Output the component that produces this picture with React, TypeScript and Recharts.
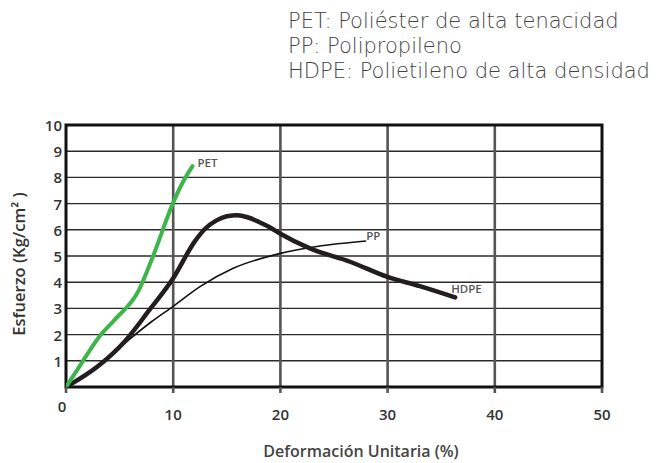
import React from "react";
import {
  LineChart,
  Line,
  XAxis,
  YAxis,
  CartesianGrid,
  ReferenceArea,
  LabelList,
} from "recharts";

// Esfuerzo vs deformación
const pet = [
  { x: 0, y: 0 },
  { x: 1.2, y: 0.75 },
  { x: 3.1, y: 1.92 },
  { x: 4.5, y: 2.55 },
  { x: 6.8, y: 3.7 },
  { x: 8.1, y: 4.97 },
  { x: 9.96, y: 7.0 },
  { x: 10.75, y: 7.7 },
  { x: 11.8, y: 8.43 },
];

const hdpe = [
  { x: 0, y: 0 },
  { x: 3, y: 0.8 },
  { x: 5.5, y: 1.75 },
  { x: 7.8, y: 2.95 },
  { x: 10, y: 4.15 },
  { x: 12, y: 5.55 },
  { x: 13, y: 6.05 },
  { x: 14, y: 6.35 },
  { x: 15, y: 6.52 },
  { x: 16, y: 6.56 },
  { x: 17, y: 6.47 },
  { x: 18, y: 6.3 },
  { x: 19, y: 6.1 },
  { x: 20, y: 5.85 },
  { x: 22.7, y: 5.3 },
  { x: 26.5, y: 4.78 },
  { x: 30, y: 4.2 },
  { x: 33, y: 3.85 },
  { x: 36.3, y: 3.42 },
];

const pp = [
  { x: 0, y: 0 },
  { x: 3, y: 0.8 },
  { x: 6, y: 1.85 },
  { x: 8, y: 2.5 },
  { x: 10, y: 3.08 },
  { x: 12.5, y: 3.83 },
  { x: 15.6, y: 4.53 },
  { x: 20, y: 5.1 },
  { x: 23.4, y: 5.36 },
  { x: 28, y: 5.57 },
];

const xTicks = [0, 10, 20, 30, 40, 50];
const yTicks = [1, 2, 3, 4, 5, 6, 7, 8, 9, 10];
const legendLines = [
  "PET: Poliéster de alta tenacidad",
  "PP: Polipropileno",
  "HDPE: Polietileno de alta densidad",
];

const FONT = "'Open Sans', sans-serif";

const XTick = (props: any) => {
  const { x, y, payload } = props;
  const isZero = payload.value === 0;
  return (
    <text
      x={isZero ? x - 4 : x}
      y={isZero ? y + 11 : y + 19}
      textAnchor="middle"
      dominantBaseline="central"
      fontSize={15}
      fontWeight={600}
      fill="#333"
      fontFamily={FONT}
    >
      {payload.value}
    </text>
  );
};

const YTick = (props: any) => {
  const { y, payload } = props;
  return (
    <text
      x={62}
      y={y}
      textAnchor="end"
      dominantBaseline="central"
      fontSize={15}
      fontWeight={600}
      fill="#333"
      fontFamily={FONT}
    >
      {payload.value}
    </text>
  );
};

const endLabel = (name: string, count: number, dx: number, dy: number) =>
  (props: any) => {
    const { x, y, index } = props;
    if (index !== count - 1) return null;
    return (
      <text
        x={x + dx}
        y={y + dy}
        fontSize={11.5}
        fontWeight={600}
        fill="#555"
        fontFamily={FONT}
      >
        {name}
      </text>
    );
  };

export default function App() {
  return (
    <div
      style={{
        position: "absolute",
        left: 0,
        top: 0,
        width: 658,
        height: 463,
        background: "#fff",
        fontFamily: FONT,
      }}
    >
      <div
        style={{
          position: "absolute",
          left: 288,
          top: 9,
          fontSize: 21,
          fontWeight: 200,
          fontFamily: "'DejaVu Sans', sans-serif",
          lineHeight: "25px",
          color: "#444",
          whiteSpace: "nowrap",
        }}
      >
        {legendLines.map((l) => (
          <div key={l}>{l}</div>
        ))}
      </div>
      <LineChart
        width={658}
        height={463}
        margin={{ top: 125, right: 56, bottom: 46, left: 6 }}
      >
        <CartesianGrid
          vertical={false}
          stroke="#2a2a2a"
          strokeWidth={1.4}
          horizontalValues={yTicks}
        />
        <CartesianGrid
          horizontal={false}
          stroke="#555"
          strokeWidth={2.6}
          verticalValues={[10, 20, 30, 40]}
        />
        <XAxis
          type="number"
          dataKey="x"
          domain={[0, 50]}
          ticks={xTicks}
          height={30}
          axisLine={false}
          tickLine={{ stroke: "#555", strokeWidth: 2.6 }}
          tickSize={6}
          tick={<XTick />}
          interval={0}
          allowDataOverflow
        />
        <YAxis
          type="number"
          domain={[0, 10]}
          ticks={yTicks}
          width={60}
          axisLine={false}
          tickLine={false}
          tick={<YTick />}
          interval={0}
          allowDataOverflow
        />
        <ReferenceArea
          x1={0}
          x2={50}
          y1={0}
          y2={10}
          fill="none"
          stroke="#111"
          strokeWidth={3}
          ifOverflow="visible"
        />
        <Line
          data={pp}
          dataKey="y"
          type="monotone"
          stroke="#111"
          strokeWidth={1.6}
          dot={false}
          isAnimationActive={false}
        >
          <LabelList content={endLabel("PP", pp.length, 0, -1)} />
        </Line>
        <Line
          data={hdpe}
          dataKey="y"
          type="monotone"
          stroke="#221e1f"
          strokeWidth={4.5}
          strokeLinecap="round"
          dot={false}
          isAnimationActive={false}
        >
          <LabelList content={endLabel("HDPE", hdpe.length, -4, -4)} />
        </Line>
        <Line
          data={pet}
          dataKey="y"
          type="monotone"
          stroke="#3db54a"
          strokeWidth={4}
          strokeLinecap="round"
          dot={false}
          isAnimationActive={false}
        >
          <LabelList content={endLabel("PET", pet.length, 5, 1)} />
        </Line>
      </LineChart>
      <svg
        width={40}
        height={463}
        style={{ position: "absolute", left: 0, top: 0 }}
      >
        <text
          x={18}
          y={264}
          transform="rotate(-90, 18, 264)"
          textAnchor="middle"
          dominantBaseline="central"
          fontSize={16.5}
          fontWeight={600}
          fill="#333"
          fontFamily={FONT}
        >
          Esfuerzo (Kg/cm² )
        </text>
      </svg>
      <div
        style={{
          position: "absolute",
          left: 211,
          width: 300,
          top: 442,
          height: 18,
          textAlign: "center",
          fontSize: 16,
          lineHeight: "18px",
          fontWeight: 600,
          color: "#444",
          whiteSpace: "nowrap",
        }}
      >
        Deformación Unitaria (%)
      </div>
    </div>
  );
}
